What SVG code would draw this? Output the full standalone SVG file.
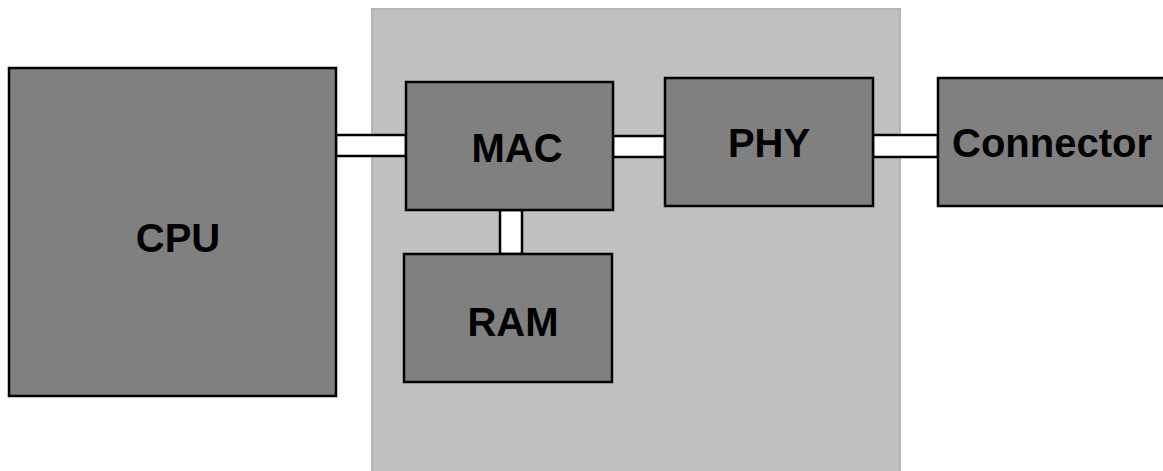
<svg xmlns="http://www.w3.org/2000/svg" width="1163" height="471" viewBox="0 0 1163 471">
<style>
.bg{fill:#c0c0c0;stroke:#b4b4b4;stroke-width:2}
.node{fill:#808080;stroke:#000;stroke-width:2.5}
.bus{fill:#fff;stroke:#000;stroke-width:2.5}
.lbl{font-family:"Liberation Sans",Arial,sans-serif;font-weight:bold;font-size:40px;fill:#000;text-anchor:middle}
</style>
<rect class="bg" x="372" y="9" width="528" height="470"/>
<g id="connectors">
<rect class="bus" x="336" y="135" width="70" height="21"/>
<rect class="bus" x="613" y="136" width="52" height="21"/>
<rect class="bus" x="873" y="135" width="65" height="22"/>
<rect class="bus" x="500" y="210" width="22" height="44"/>
</g>
<g id="cpu"><rect class="node" x="9" y="68" width="327" height="328"/><text class="lbl" x="178" y="252">CPU</text></g>
<g id="mac"><rect class="node" x="406" y="82" width="207" height="128"/><text class="lbl" x="517" y="162">MAC</text></g>
<g id="phy"><rect class="node" x="665" y="78" width="208" height="128"/><text class="lbl" x="769" y="157">PHY</text></g>
<g id="connector"><rect class="node" x="938" y="78" width="240" height="128"/><text class="lbl" x="1052" y="157">Connector</text></g>
<g id="ram"><rect class="node" x="404" y="254" width="208" height="128"/><text class="lbl" x="513" y="336">RAM</text></g>
</svg>
